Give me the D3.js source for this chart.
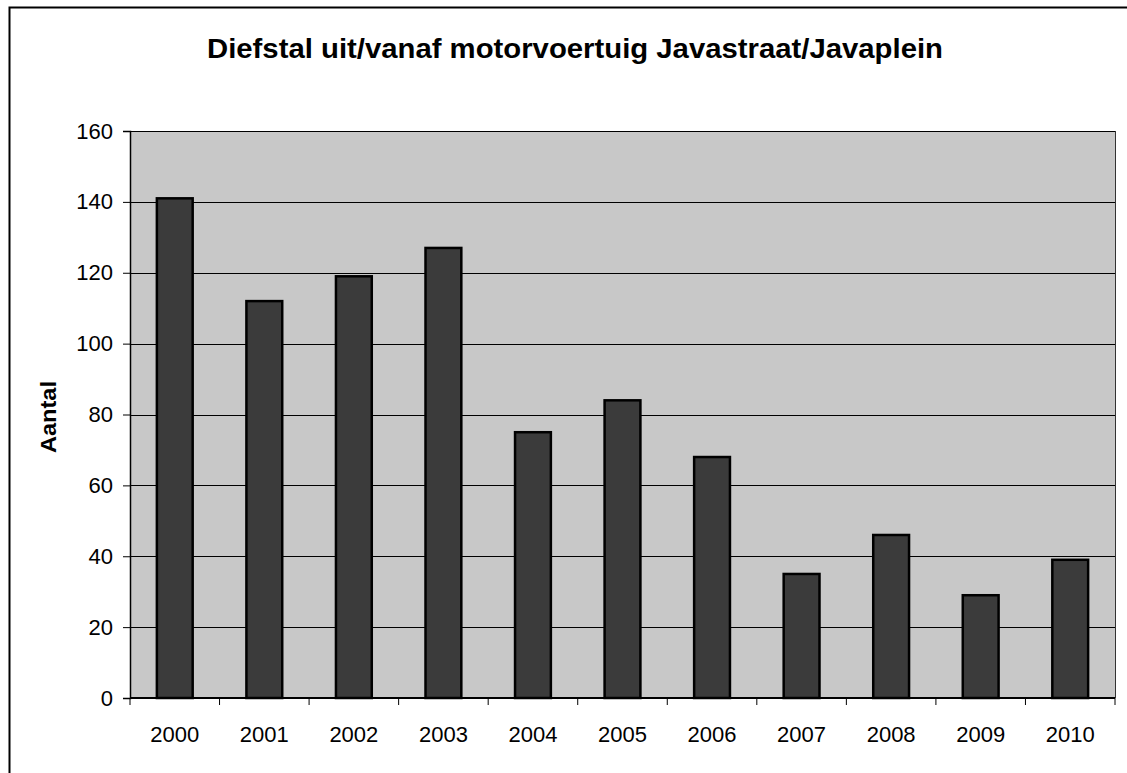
<!DOCTYPE html>
<html><head><meta charset="utf-8">
<script src="https://cdn.jsdelivr.net/npm/d3@7"></script>
<style>body{margin:0;background:#fff}svg{display:block}text{font-family:"Liberation Sans",Arial,sans-serif;fill:#000}</style>
</head><body><svg id="c" width="1127" height="773"></svg>
<script>
const years = ["2000","2001","2002","2003","2004","2005","2006","2007","2008","2009","2010"];
const counts = [141,112,119,127,75,84,68,35,46,29,39];
const yTicks = [0,20,40,60,80,100,120,140,160];
const title = "Diefstal uit/vanaf motorvoertuig Javastraat/Javaplein";
const yLabel = "Aantal";

const svg = d3.select("#c");
const m = {l:130, t:131, r:1115, b:698};
// outer frame
svg.append("rect").attr("x",9.5).attr("y",7.5).attr("width",1140).attr("height",800)
  .attr("fill","none").attr("stroke","#000").attr("stroke-width",2);

const x = d3.scaleBand().domain(years).range([m.l,m.r]).paddingInner(0.6).paddingOuter(0.3);
const xb = d3.scaleBand().domain(years).range([m.l,m.r]);
const y = d3.scaleLinear().domain([0,160]).range([m.b,m.t]);

svg.append("rect").attr("x",m.l).attr("y",m.t).attr("width",m.r-m.l).attr("height",m.b-m.t)
  .attr("fill","#c8c8c8");

// gridlines
svg.append("g").selectAll("line").data(yTicks.filter(d=>d>0)).join("line")
  .attr("x1",m.l).attr("x2",m.r).attr("y1",d=>Math.round(y(d))+0.5).attr("y2",d=>Math.round(y(d))+0.5)
  .attr("stroke","#000").attr("stroke-width",1);
// right border
svg.append("line").attr("x1",m.r+0.5).attr("x2",m.r+0.5).attr("y1",m.t).attr("y2",m.b).attr("stroke","#333");

// bars
svg.append("g").selectAll("rect").data(counts).join("rect")
  .attr("x",(d,i)=>x(years[i])).attr("width",x.bandwidth())
  .attr("y",d=>y(d)).attr("height",d=>m.b-y(d))
  .attr("fill","#3b3b3b").attr("stroke","#000").attr("stroke-width",2.5);

// y axis
const ya = svg.append("g").attr("transform",`translate(${m.l},0)`)
  .call(d3.axisLeft(y).tickValues(yTicks).tickSize(7).tickPadding(10));
ya.select(".domain").attr("stroke","#000").attr("stroke-width",1.5);
ya.selectAll("text").style("font-size","22px").attr("fill","#000");

// x axis
const xa = svg.append("g").attr("transform",`translate(0,${m.b})`);
xa.append("line").attr("x1",m.l).attr("x2",m.r).attr("y1",0).attr("y2",0).attr("stroke","#000").attr("stroke-width",2);
const bounds = years.map(d=>xb(d)).concat([m.r]);
xa.selectAll("line.t").data(bounds).join("line").attr("class","t")
  .attr("x1",d=>d).attr("x2",d=>d).attr("y1",0).attr("y2",7).attr("stroke","#000");
xa.selectAll("text").data(years).join("text")
  .attr("x",d=>xb(d)+xb.bandwidth()/2).attr("y",44).attr("text-anchor","middle")
  .style("font-size","22px").text(d=>d);

svg.append("text").attr("x",575).attr("y",58).attr("text-anchor","middle")
  .attr("textLength",736).attr("lengthAdjust","spacingAndGlyphs")
  .style("font-size","27px").style("font-weight","bold").text(title);
svg.append("text").attr("transform","translate(56,417) rotate(-90)").attr("text-anchor","middle")
  .attr("textLength",72).attr("lengthAdjust","spacingAndGlyphs")
  .style("font-size","22px").style("font-weight","bold").text(yLabel);
</script></body></html>
